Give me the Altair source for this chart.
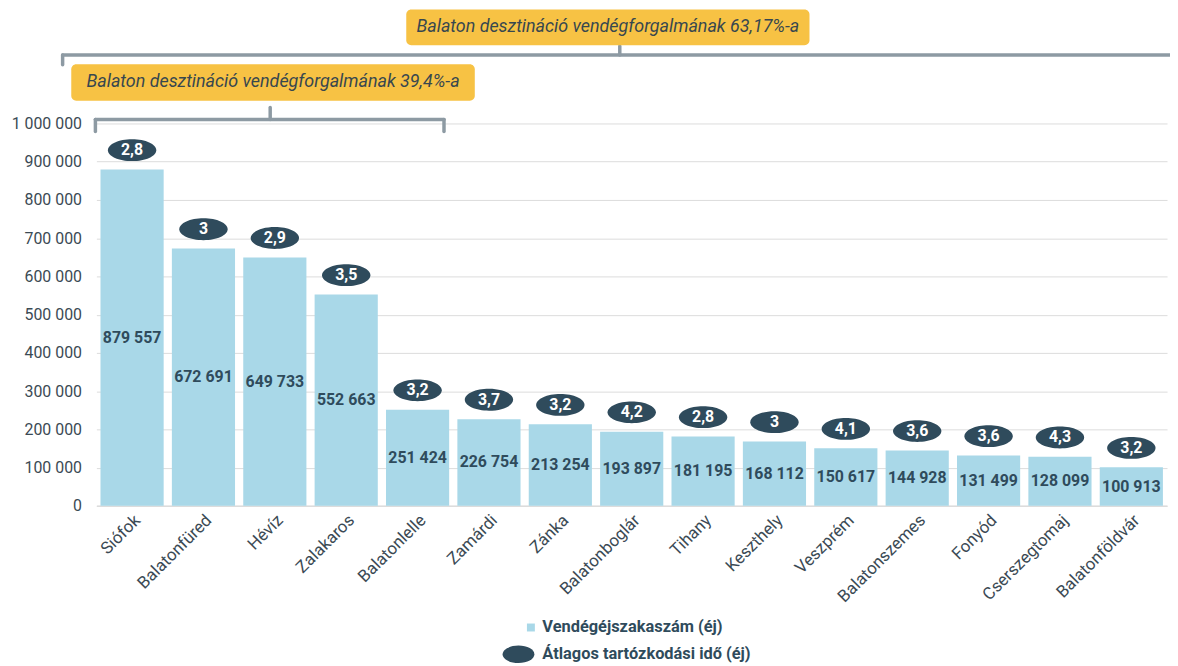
import altair as alt
import pandas as pd

# ---------------- data ----------------
cities = ["Siófok", "Balatonfüred", "Hévíz", "Zalakaros", "Balatonlelle", "Zamárdi",
          "Zánka", "Balatonboglár", "Tihany", "Keszthely", "Veszprém", "Balatonszemes",
          "Fonyód", "Cserszegtomaj", "Balatonföldvár"]
nights = [879557, 672691, 649733, 552663, 251424, 226754, 213254, 193897,
          181195, 168112, 150617, 144928, 131499, 128099, 100913]
avg_stay = [2.8, 3, 2.9, 3.5, 3.2, 3.7, 3.2, 4.2, 2.8, 3, 4.1, 3.6, 3.6, 4.3, 3.2]
series_names = ["Vendégéjszakaszám (éj)", "Átlagos tartózkodási idő (éj)"]
y_ticks = [0, 100000, 200000, 300000, 400000, 500000, 600000, 700000, 800000, 900000, 1000000]
annotation_texts = ["Balaton desztináció vendégforgalmának 63,17%-a",
                    "Balaton desztináció vendégforgalmának 39,4%-a"]

# ---------------- style ----------------
DARK = "#2f4b5c"
BAR = "#a9d8e8"
YELLOW = "#f7c244"
BRACKET = "#8d9aa3"
AXIS_TXT = "#3b4a54"
GRID = "#dcdcdc"
FONT = "Roboto"

ELLIPSE_MAIN = "M -1 0 A 1 0.452 0 1 0 1 0 A 1 0.452 0 1 0 -1 0 Z"
LEG_ELLIPSE = "M -1.6 0 A 1.6 0.88 0 1 0 1.6 0 A 1.6 0.88 0 1 0 -1.6 0 Z"
LEG_SQUARE = "M 0.85 -0.4 L 1.65 -0.4 L 1.65 0.4 L 0.85 0.4 Z"

df = pd.DataFrame({"city": cities, "nights": nights, "avg": avg_stay})

x_enc = alt.X("city:N", sort=cities, title=None,
              scale=alt.Scale(paddingInner=0.115, paddingOuter=0.0575),
              axis=alt.Axis(labelAngle=-45, labelFont=FONT, labelFontSize=17,
                            labelColor=AXIS_TXT, ticks=False, domainColor=GRID,
                            domainWidth=1.5, labelPadding=6, labelLimit=0))

y_scale = alt.Scale(domain=[0, 1000000])
y_axis = alt.Axis(values=y_ticks, ticks=False, domain=False, gridColor=GRID,
                  labelFont=FONT, labelFontSize=16, labelColor=AXIS_TXT,
                  labelPadding=15, labelOverlap=False,
                  labelExpr="replace(format(datum.value, ','), /,/g, ' ')")


def y_of(field):
    return alt.Y(field, scale=y_scale, title=None, axis=y_axis)


base = alt.Chart(df).encode(x=x_enc)

bars = base.mark_bar(color=BAR).encode(y=y_of("nights:Q"))

bar_labels = base.transform_calculate(
    half="datum.nights / 2",
    lab="replace(format(datum.nights, ','), /,/g, ' ')"
).mark_text(font=FONT, fontSize=16, fontWeight="bold", color=DARK, baseline="middle").encode(
    y=y_of("half:Q"),
    text="lab:N"
)

ellipses = base.mark_point(shape=ELLIPSE_MAIN, size=2371, filled=True, color=DARK,
                           opacity=1, yOffset=-19.5).encode(y=y_of("nights:Q"))

ellipse_labels = base.transform_calculate(
    avglab="replace('' + datum.avg, '.', ',')"
).mark_text(font=FONT, fontSize=16, fontWeight="bold", color="white",
            baseline="middle", dy=-19.5).encode(
    y=y_of("nights:Q"),
    text="avglab:N"
)

# legend driver
legend_df = pd.DataFrame({"series": series_names})
leg_props = dict(orient="none", legendX=415, legendY=497.5, title=None, direction="vertical",
                 symbolSize=400, symbolStrokeWidth=0, symbolOpacity=1,
                 labelFont=FONT, labelFontSize=16.5, labelFontWeight="bold",
                 labelColor=DARK, labelOffset=14, rowPadding=8, padding=0, labelLimit=0)
legend_layer = alt.Chart(legend_df).mark_point(filled=True, opacity=0).encode(
    color=alt.Color("series:N", scale=alt.Scale(domain=series_names, range=[BAR, DARK]),
                    legend=alt.Legend(**leg_props)),
    shape=alt.Shape("series:N", scale=alt.Scale(domain=series_names,
                                                 range=[LEG_SQUARE, LEG_ELLIPSE]),
                    legend=alt.Legend(**leg_props)),
)

# annotations (brackets + boxes), positioned in pixels relative to plot area
one = pd.DataFrame({"k": [0]})


def hrule(x1, x2, y):
    return alt.Chart(one).mark_rule(color=BRACKET, strokeWidth=3.5, strokeCap="round").encode(
        x=alt.value(x1), x2=alt.value(x2), y=alt.value(y))


def vrule(x, y1, y2):
    return alt.Chart(one).mark_rule(color=BRACKET, strokeWidth=3.5, strokeCap="round").encode(
        x=alt.value(x), y=alt.value(y1), y2=alt.value(y2))


def box(x1, x2, y1, y2, text):
    r = alt.Chart(one).mark_rect(color=YELLOW, cornerRadius=5).encode(
        x=alt.value(x1), x2=alt.value(x2), y=alt.value(y1), y2=alt.value(y2))
    t = alt.Chart(one).mark_text(font=FONT, fontSize=18, fontStyle="italic",
                                 color="#37474f", baseline="middle", align="center").encode(
        x=alt.value((x1 + x2) / 2), y=alt.value((y1 + y2) / 2), text=alt.value(text))
    return [r, t]


annots = [
    # top bracket (63,17%)
    hrule(-34, 1090, -69), vrule(-34, -69, -59), vrule(527, -78, -69),
    # lower bracket (39,4%)
    hrule(-1, 350, -4), vrule(-1, -4, 8), vrule(350, -4, 8), vrule(175, -16, -4),
]
annots += box(312, 718, -114.7, -78.7, annotation_texts[0])
annots += box(-25.3, 381, -59.7, -23, annotation_texts[1])

chart = alt.layer(bars, bar_labels, ellipses, ellipse_labels, legend_layer, *annots).properties(
    width=1078, height=385,
    autosize=alt.AutoSizeParams(type="none"),
    padding={"left": 89, "top": 114, "right": 3, "bottom": 159},
).configure(font=FONT).configure_view(stroke=None)

chart.save("out.html", embed_options={"renderer": "svg", "actions": False})
